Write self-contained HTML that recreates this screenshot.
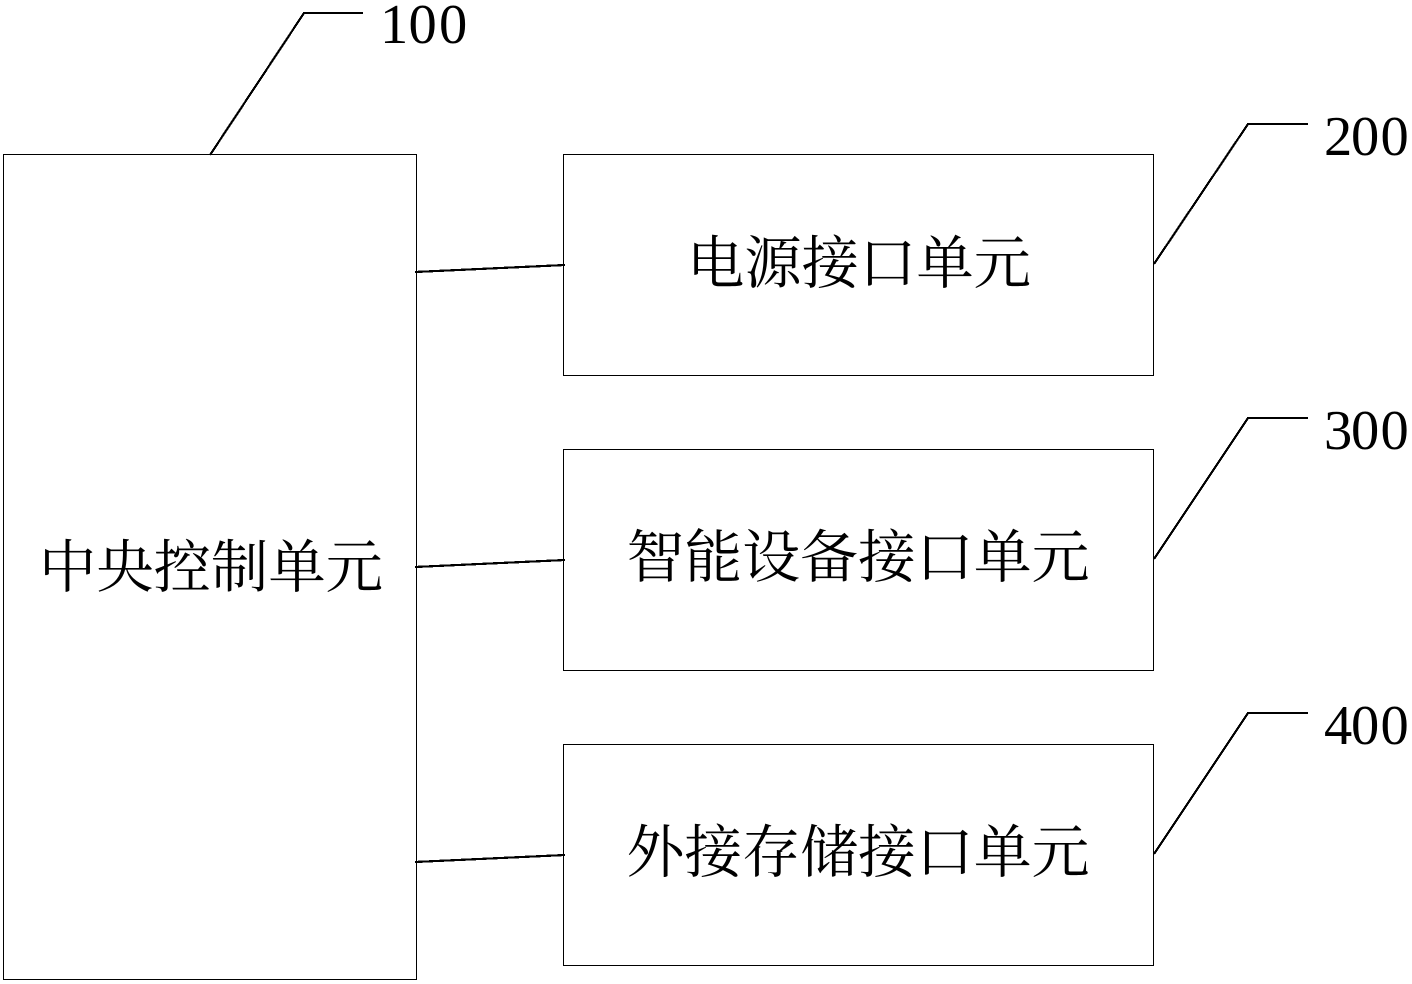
<!DOCTYPE html>
<html>
<head>
<meta charset="utf-8">
<style>
html,body{margin:0;padding:0;background:#fff;}
svg{display:block;}
text{fill:#000;}
.c{font-family:"Noto Serif CJK SC","Liberation Serif",serif;font-size:57.5px;}
.n{font-family:"Liberation Serif",serif;font-size:56.5px;}
</style>
</head>
<body>
<svg width="1412" height="984" viewBox="0 0 1412 984" xmlns="http://www.w3.org/2000/svg">
<g fill="none" stroke="#000" stroke-width="1" shape-rendering="crispEdges">
<rect x="3.5" y="154.5" width="413" height="825"/>
<rect x="563.5" y="154.5" width="590" height="221"/>
<rect x="563.5" y="449.5" width="590" height="221"/>
<rect x="563.5" y="744.5" width="590" height="221"/>
</g>
<g fill="none" stroke="#000" stroke-width="2.2" stroke-linejoin="miter" shape-rendering="crispEdges">
<line x1="415" y1="272" x2="565" y2="265"/>
<line x1="415" y1="567" x2="565" y2="560"/>
<line x1="415" y1="862" x2="565" y2="855"/>
<polyline points="210,155 304,13 363,13"/>
<polyline points="1154,264 1248,124 1308,124"/>
<polyline points="1154,559 1248,418 1308,418"/>
<polyline points="1154,854 1248,713 1308,713"/>
</g>
<text class="c" x="39" y="587" textLength="344" lengthAdjust="spacingAndGlyphs">中央控制单元</text>
<text class="c" x="687" y="283" textLength="344" lengthAdjust="spacingAndGlyphs">电源接口单元</text>
<text class="c" x="626.5" y="577" textLength="463" lengthAdjust="spacingAndGlyphs">智能设备接口单元</text>
<text class="c" x="626.5" y="872" textLength="463" lengthAdjust="spacingAndGlyphs">外接存储接口单元</text>
<text class="n" x="380 408.5 439" y="43">100</text>
<text class="n" x="1324 1351 1380.5" y="155">200</text>
<text class="n" x="1324 1351 1380.5" y="449">300</text>
<text class="n" x="1324 1351 1380.5" y="744">400</text>
</svg>
</body>
</html>
